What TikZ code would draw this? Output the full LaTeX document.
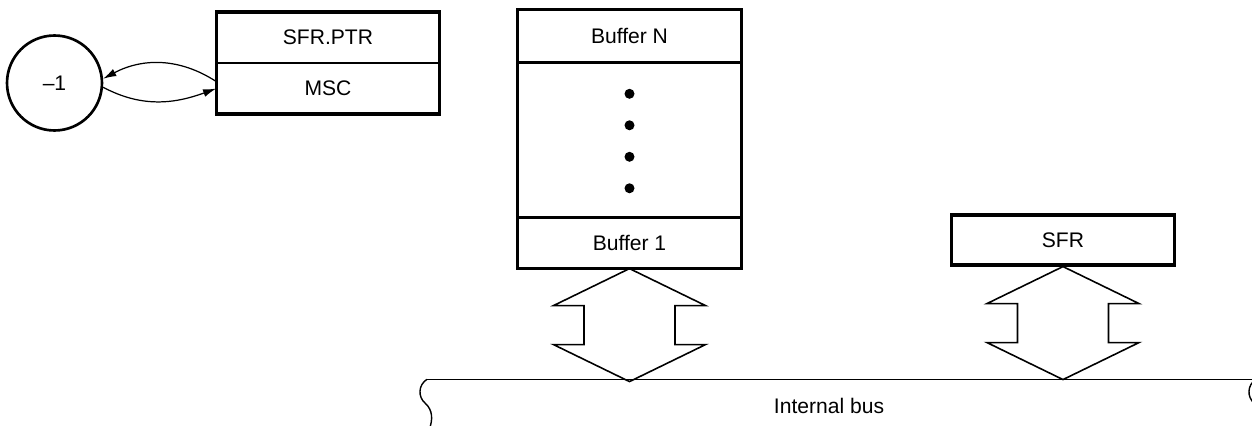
\documentclass[tikz,border=0pt]{standalone}
\usepackage{fontspec}
\setmainfont{Liberation Sans}
\usetikzlibrary{positioning,arrows.meta}

\begin{document}
\begin{tikzpicture}[x=0.02cm, y=0.02cm, font=\fontsize{12}{14}\selectfont,
    cell/.style={rectangle, draw, line width=0.6pt, minimum width=4.45cm, minimum height=1cm, inner sep=0pt},
    frame/.style={draw, line width=1.8pt},
    link/.style={-{Latex[length=7.5pt,width=4.5pt]}, line width=0.7pt},
    busarrow/.style={draw, line width=0.9pt, line join=miter}]
        \useasboundingbox (0,0) rectangle (1252,-426);

        \node[cell] (ptr) at (328,-37.5) {SFR.PTR};
        \node[cell, below=0pt of ptr] (msc) {MSC};
        \draw[frame] (ptr.north west) rectangle (msc.south east);

        \node[circle, draw, line width=1.5pt, minimum size=1.9cm, inner sep=0pt] (dec) at (54.5,-83) {\textendash1};
        \draw[link] ([yshift=0.14cm]msc.west) to[out=147, in=28] (dec.5);
        \draw[link] (dec.-5) to[out=-28, in=200] (msc.west);

        \node[cell, minimum height=1.04cm] (bufN) at (629.5,-36) {Buffer N};
        \node[cell, minimum height=3.08cm, below=0pt of bufN] (bufdots) {};
        \node[cell, below=0pt of bufdots] (buf1) {Buffer 1};
        \draw[frame] (bufN.north west) rectangle (buf1.south east);
        \foreach \k in {1,...,4}
            \fill ([yshift=(2.5-\k)*0.63cm-0.02cm]bufdots.center) circle[radius=0.1cm];

        \node[cell, frame] (sfr) at (1063,-240) {SFR};

        % Add bus
        \coordinate (busL) at (427,-379.3);
        \coordinate (busR) at (1256,-379.3);
        \draw[line width=0.8pt] (busL) -- (busR);
        \draw[line width=0.8pt] (busL) .. controls (418,-385) and (418,-397) .. (425,-403) .. controls (433,-410) and (433,-420) .. (429,-430);
        \draw[line width=0.8pt] (busR) .. controls (1247,-385) and (1247,-397) .. (1254,-403) .. controls (1262,-410) and (1262,-420) .. (1258,-430);
        \node (buslabel) at (829,-406) {Internal bus};

        \foreach \n in {buf1,sfr}
            \draw[busarrow] (\n.south) -- ++(-76,-37) -- ++(30.5,0) -- ++(0,-39) -- ++(-30.5,0) -- ++(76,-37)
                -- ++(76,37) -- ++(-30.5,0) -- ++(0,39) -- ++(30.5,0) -- cycle;
    \end{tikzpicture}
\end{document}
